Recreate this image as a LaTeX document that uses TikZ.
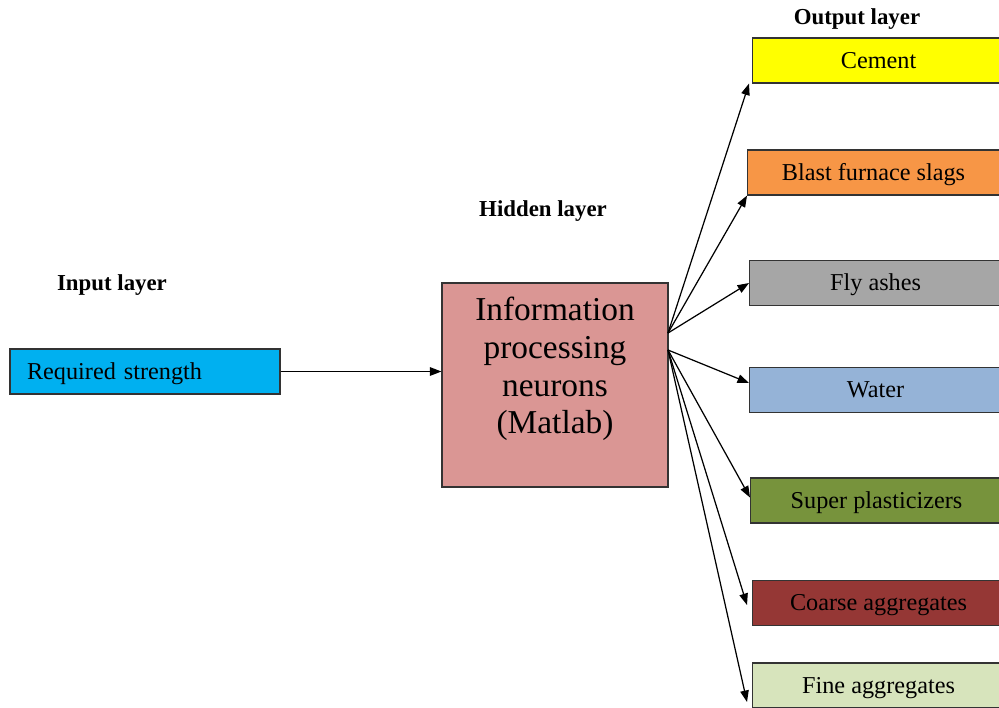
\documentclass[tikz,border=0pt]{standalone}
\usepackage{fontspec}
\setmainfont{Liberation Serif}
\usepackage{xcolor}
\usetikzlibrary{arrows.meta, positioning}

\definecolor{incyan}{HTML}{00B0F0}
\definecolor{hidpink}{HTML}{DA9694}
\definecolor{outyellow}{HTML}{FFFF00}
\definecolor{outorange}{HTML}{F79646}
\definecolor{outgray}{HTML}{A6A6A6}
\definecolor{outblue}{HTML}{95B3D7}
\definecolor{outgreen}{HTML}{77933C}
\definecolor{outred}{HTML}{953735}
\definecolor{outpale}{HTML}{D7E4BC}

\begin{document}
\begin{tikzpicture}[x=0.02cm, y=-0.02cm,
    layerlbl/.style={font=\fontsize{13}{15}\selectfont\bfseries},
    box/.style={draw=black!80, line width=0.65pt, minimum height=0.9cm, inner sep=0pt,
                text height=11.5pt, text depth=2.5pt, font=\fontsize{13.8}{16}\selectfont},
    outbox/.style={box, anchor=west, minimum width=5.04cm},
    link/.style={line width=0.7pt, -{Triangle[length=2.3mm, width=1.7mm]}}]
  \useasboundingbox (0,0) rectangle (999,707);
  \clip (0,0) rectangle (999,707);

  % Layer titles
  \node[layerlbl] (inlbl)  at (112,285) {Input layer};
  \node[layerlbl] (hidlbl) at (543,211) {Hidden layer};
  \node[layerlbl] (outlbl) at (857,19)  {Output layer};

  % Input and hidden layer
  \node[box, fill=incyan, minimum width=5.4cm, text width=4.72cm, inner xsep=0.34cm, align=left]
    (input) at (145,371.5) {Required strength};
  \node[draw=black!80, line width=0.65pt, fill=hidpink, minimum width=4.52cm, minimum height=4.08cm]
    (hidden) at (555,385) {};
  \node[font=\fontsize{19}{21.5}\selectfont, align=center] (hidtxt) at (555,369)
    {Information\\processing\\neurons\\(Matlab)};

  % Output layer
  \node[outbox, fill=outyellow] (cement) at (752,60.5)  {Cement};
  \node[outbox, fill=outorange] (slag)   at (747,172.5) {Blast furnace slags};
  \node[outbox, fill=outgray]   (ash)    at (749,283)   {Fly ashes};
  \node[outbox, fill=outblue]   (water)  at (749,390)   {Water};
  \node[outbox, fill=outgreen]  (plast)  at (750,500.5) {Super plasticizers};
  \node[outbox, fill=outred]    (coarse) at (752,603)   {Coarse aggregates};
  \node[outbox, fill=outpale]   (fine)   at (752,685.5) {Fine aggregates};

  % Connections
  \coordinate (hidup) at (668,333);
  \coordinate (hidlo) at (668,350);
  \draw[link] (input.east) -- (input.east -| hidden.west);
  \draw[link] (hidup) -- ([xshift=-0.06cm]cement.south west);
  \draw[link] (hidup) -- (slag.south west);
  \draw[link] (hidup) -- (ash.west);
  \draw[link] (hidlo) -- ([yshift=0.14cm]water.west);
  \draw[link] (hidlo) -- ([yshift=0.06cm]plast.west);
  \draw[link] (hidlo) -- ([xshift=-0.1cm, yshift=-0.04cm]coarse.west);
  \draw[link] (hidlo) -- ([xshift=-0.1cm, yshift=-0.33cm]fine.west);
\end{tikzpicture}
\end{document}
